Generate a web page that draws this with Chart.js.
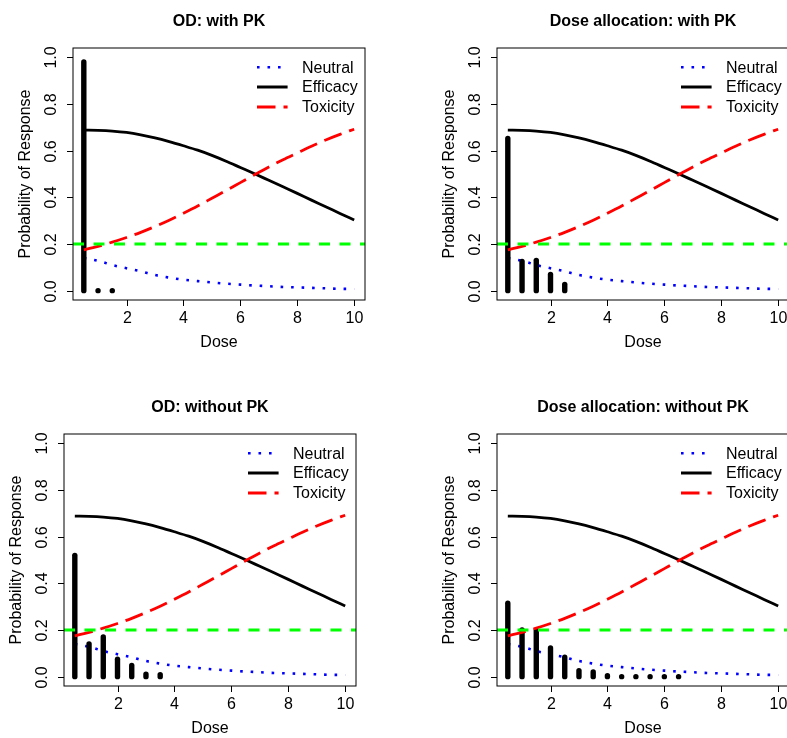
<!DOCTYPE html>
<html>
<head>
<meta charset="utf-8">
<script src="https://cdn.jsdelivr.net/npm/chart.js"></script>
<style>
  html, body { margin: 0; padding: 0; background: #fff; }
  body { width: 787px; height: 738px; overflow: hidden; position: relative; }
  .panel { position: absolute; width: 400px; height: 370px; }
</style>
</head>
<body>
<div class="panel" style="left:0px;top:0px"><canvas id="c0" width="400" height="370"></canvas></div>
<div class="panel" style="left:424px;top:0px"><canvas id="c1" width="400" height="370"></canvas></div>
<div class="panel" style="left:-9px;top:386px"><canvas id="c2" width="400" height="370"></canvas></div>
<div class="panel" style="left:424px;top:386px"><canvas id="c3" width="400" height="370"></canvas></div>
<script>
// dose grid for the probability curves
const doses = [0.5, 1, 1.5, 2, 2.5, 3, 3.5, 4, 4.5, 5, 5.5, 6, 6.5, 7, 7.5, 8, 8.5, 9, 9.5, 10];
const efficacy = [0.688, 0.687, 0.684, 0.678, 0.668, 0.655, 0.639, 0.621, 0.602, 0.58,
                  0.555, 0.528, 0.501, 0.473, 0.445, 0.417, 0.388, 0.36, 0.331, 0.303];
const toxicity = [0.175, 0.19, 0.208, 0.228, 0.25, 0.275, 0.302, 0.332, 0.363, 0.396,
                  0.429, 0.463, 0.497, 0.53, 0.561, 0.59, 0.619, 0.646, 0.67, 0.692];
const neutral = [0.14, 0.128, 0.11, 0.096, 0.083, 0.067, 0.056, 0.047, 0.041, 0.035,
                 0.03, 0.026, 0.022, 0.019, 0.016, 0.014, 0.012, 0.01, 0.008, 0.007];
const toxTarget = 0.2;

// bars (proportions) at the tested doses
const barDoses = [0.5, 1, 1.5, 2, 2.5, 3, 3.5, 4, 4.5, 5, 5.5, 6, 6.5];
const odWithPK = [0.98, 0, 0];
const allocWithPK = [0.652, 0.125, 0.13, 0.07, 0.027];
const odWithoutPK = [0.52, 0.14, 0.17, 0.075, 0.048, 0.011, 0.008];
const allocWithoutPK = [0.315, 0.2, 0.2, 0.123, 0.083, 0.026, 0.02, 0.004, 0, 0, 0, 0, 0];

const titles = ['OD: with PK', 'Dose allocation: with PK', 'OD: without PK', 'Dose allocation: without PK'];
const barSets = [odWithPK, allocWithPK, odWithoutPK, allocWithoutPK];
const xTicks = [2, 4, 6, 8, 10];
const yTicks = [0, 0.2, 0.4, 0.6, 0.8, 1.0];
const xRange = [0.12, 10.38];
const yRange = [-0.04, 1.04];
const legendLabels = ['Neutral', 'Efficacy', 'Toxicity'];

const FONT = '"Liberation Sans", Arial, Helvetica, sans-serif';
const TOX_DASH = [18.5, 8];

function pts(xs, ys) {
  return ys.map((y, i) => ({ x: xs[i], y: y }));
}

// R-like axes, box, titles and legend
const rStyle = {
  id: 'rStyle',
  beforeDatasetDraw(chart, args) {
    if (args.index !== 2) return;   // bars go between neutral and efficacy
    const ctx = chart.ctx, xs = chart.scales.x, ys = chart.scales.y;
    const vals = chart.options.plugins.rStyle.bars;
    const y0 = ys.getPixelForValue(0);
    ctx.save();
    ctx.strokeStyle = '#000';
    ctx.fillStyle = '#000';
    ctx.lineWidth = 5.4;
    ctx.lineCap = 'round';
    vals.forEach((v, i) => {
      const px = xs.getPixelForValue(barDoses[i]);
      const py = ys.getPixelForValue(v);
      if (y0 - py < 0.5) {
        ctx.beginPath();
        ctx.arc(px, y0, 2.7, 0, Math.PI * 2);
        ctx.fill();
      } else {
        ctx.beginPath();
        ctx.moveTo(px, y0);
        ctx.lineTo(px, py);
        ctx.stroke();
      }
    });
    ctx.restore();
  },
  afterDraw(chart) {
    const ctx = chart.ctx, a = chart.chartArea;
    const xs = chart.scales.x, ys = chart.scales.y;
    ctx.save();
    ctx.strokeStyle = '#000';
    ctx.fillStyle = '#000';
    ctx.lineWidth = 1;
    ctx.strokeRect(a.left, a.top, a.right - a.left, a.bottom - a.top);

    // x ticks
    ctx.font = '16px ' + FONT;
    ctx.textAlign = 'center';
    ctx.textBaseline = 'middle';
    xTicks.forEach(t => {
      const px = Math.round(xs.getPixelForValue(t)) + 0.5;
      ctx.beginPath();
      ctx.moveTo(px, a.bottom);
      ctx.lineTo(px, a.bottom + 6);
      ctx.stroke();
      ctx.fillText(String(t), px, a.bottom + 19);
    });
    // y ticks, labels rotated like R
    yTicks.forEach(t => {
      const py = Math.round(ys.getPixelForValue(t)) + 0.5;
      ctx.beginPath();
      ctx.moveTo(a.left - 6, py);
      ctx.lineTo(a.left, py);
      ctx.stroke();
      ctx.save();
      ctx.translate(a.left - 21, py);
      ctx.rotate(-Math.PI / 2);
      ctx.fillText(t.toFixed(1), 0, 0);
      ctx.restore();
    });
    const cx = (a.left + a.right) / 2, cy = (a.top + a.bottom) / 2;
    ctx.fillText('Dose', cx, a.bottom + 43);
    ctx.save();
    ctx.translate(a.left - 47, cy);
    ctx.rotate(-Math.PI / 2);
    ctx.fillText('Probability of Response', 0, 0);
    ctx.restore();

    ctx.font = 'bold 16px ' + FONT;
    ctx.fillText(chart.options.plugins.rStyle.title, cx, 22);

    // legend
    const lx0 = a.left + 184, lx1 = a.left + 214.6, tx = a.left + 229;
    const rows = [a.top + 19.3, a.top + 39, a.top + 59];
    const styles = [
      { c: '#0000ff', w: 2.6, d: [2.6, 7.9] },
      { c: '#000000', w: 3, d: [] },
      { c: '#ff0000', w: 2.8, d: TOX_DASH }
    ];
    styles.forEach((s, i) => {
      ctx.save();
      ctx.strokeStyle = s.c;
      ctx.lineWidth = s.w;
      ctx.setLineDash(s.d);
      ctx.beginPath();
      ctx.moveTo(lx0, rows[i]);
      ctx.lineTo(lx1, rows[i]);
      ctx.stroke();
      ctx.restore();
    });
    ctx.font = '16px ' + FONT;
    ctx.textAlign = 'left';
    legendLabels.forEach((l, i) => ctx.fillText(l, tx, rows[i] + 1));
    ctx.restore();
  }
};

titles.forEach((title, k) => {
  const ctx = document.getElementById('c' + k).getContext('2d');
  new Chart(ctx, {
    type: 'line',
    data: {
      datasets: [
        { label: 'target', data: [{ x: xRange[0], y: toxTarget }, { x: xRange[1], y: toxTarget }],
          borderColor: '#00ff00', borderWidth: 3, borderDash: [11, 9.5] },
        { label: 'Toxicity', data: pts(doses, toxicity), borderColor: '#ff0000',
          borderWidth: 2.8, borderDash: TOX_DASH, cubicInterpolationMode: 'monotone' },
        { label: 'Efficacy', data: pts(doses, efficacy), borderColor: '#000000',
          borderWidth: 2.8, cubicInterpolationMode: 'monotone' },
        { label: 'Neutral', data: pts(doses, neutral), borderColor: '#0000ff',
          borderWidth: 2.6, borderDash: [2.6, 7.9], cubicInterpolationMode: 'monotone' }
      ]
    },
    options: {
      responsive: false,
      animation: false,
      devicePixelRatio: 1,
      layout: { padding: { left: 73, top: 48, right: 35, bottom: 70 } },
      elements: { point: { radius: 0 }, line: { fill: false } },
      scales: {
        x: { type: 'linear', min: xRange[0], max: xRange[1], display: false },
        y: { type: 'linear', min: yRange[0], max: yRange[1], display: false }
      },
      plugins: {
        legend: { display: false },
        tooltip: { enabled: false },
        rStyle: { title: title, bars: barSets[k] }
      }
    },
    plugins: [rStyle]
  });
});
</script>
</body>
</html>
